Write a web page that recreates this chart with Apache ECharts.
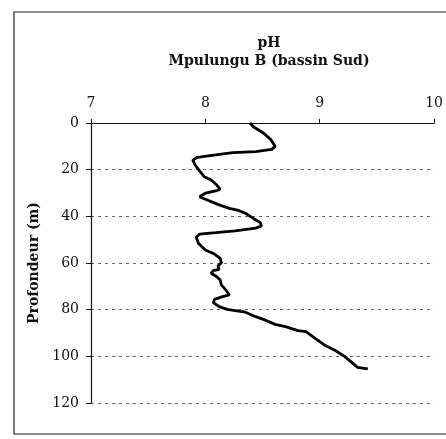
<!DOCTYPE html>
<html>
<head>
<meta charset="utf-8">
<script src="https://cdn.jsdelivr.net/npm/echarts@6/dist/echarts.min.js"></script>
<style>
  html, body { margin: 0; padding: 0; background: #fff; }
  #chart { width: 446px; height: 439px; }
</style>
</head>
<body>
<div id="chart"></div>
<script>
// profil pH - Mpulungu B (bassin Sud)
var depths = [0, 1.6, 4.4, 7, 10, 11.3, 12.3, 12.7, 13.7, 14.7, 15.9, 18, 20, 23, 24.4, 26.6, 28.4, 29,
    30.1, 31.6, 32.7, 35.1, 36.6, 37.3, 38.7, 40.9, 42.7, 44.1, 45.1, 46.2, 47, 47.6, 49, 51.6, 54.4,
    55.9, 58, 59.9, 61.3, 62.7, 63.3, 64.4, 65.9, 67.3, 69.4, 71.6, 73.7, 74.4, 75.6, 77, 78.7, 79.9,
    80.4, 81.1, 83, 84.4, 86.3, 87.3, 89, 89.4, 92.3, 95.1, 97.6, 100.1, 103, 104.7, 105.4];
var phValues = [8.39, 8.42, 8.51, 8.57, 8.61, 8.58, 8.44, 8.24, 8.09, 7.93, 7.89, 7.91, 7.94, 7.99, 8.05,
    8.10, 8.13, 8.10, 8.00, 7.95, 8.00, 8.12, 8.21, 8.28, 8.35, 8.42, 8.48, 8.49, 8.44, 8.26, 8.09,
    7.95, 7.92, 7.94, 8.00, 8.07, 8.13, 8.14, 8.11, 8.12, 8.07, 8.05, 8.10, 8.13, 8.14, 8.18, 8.21,
    8.15, 8.08, 8.07, 8.12, 8.19, 8.26, 8.35, 8.44, 8.52, 8.61, 8.70, 8.81, 8.88, 8.96, 9.04, 9.14,
    9.22, 9.29, 9.33, 9.42];
var titleLines = ['pH', 'Mpulungu B (bassin Sud)'];
var yName = 'Profondeur (m)';

var serif = '"DejaVu Serif", serif';

var seriesData = [];
for (var i = 0; i < depths.length; i++) {
    seriesData.push([phValues[i], depths[i]]);
}

var chart = echarts.init(document.getElementById('chart'));
chart.setOption({
    animation: false,
    title: {
        text: titleLines.join('\n'),
        left: 264, top: 29, textAlign: 'center',
        textStyle: {fontFamily: serif, fontWeight: 'bold', fontSize: 14, lineHeight: 18, color: '#111'}
    },
    graphic: [{
        type: 'polyline',
        shape: {points: [[446, 12], [14, 12], [14, 434], [446, 434]]},
        style: {stroke: '#222', lineWidth: 1.2, fill: null}
    }],
    grid: {left: 91, top: 123, right: 9, bottom: 36},
    xAxis: {
        type: 'value', position: 'top', min: 7, max: 10, interval: 1,
        axisLine: {show: true, onZero: false, lineStyle: {color: '#111', width: 1.2}},
        axisTick: {show: true, length: 4, lineStyle: {color: '#111'}},
        axisLabel: {margin: 13, fontFamily: serif, fontSize: 14, color: '#111'},
        splitLine: {show: false}
    },
    yAxis: {
        type: 'value', inverse: true, min: 0, max: 120, interval: 20,
        name: yName, nameLocation: 'middle', nameGap: 50, nameRotate: 90,
        nameTextStyle: {fontFamily: serif, fontWeight: 'bold', fontSize: 14, color: '#111'},
        axisLine: {show: true, onZero: false, lineStyle: {color: '#111', width: 1.2}},
        axisTick: {show: true, length: 5, lineStyle: {color: '#111'}},
        axisLabel: {margin: 12, fontFamily: serif, fontSize: 14, color: '#111'},
        splitLine: {show: true, lineStyle: {color: '#666', type: [3, 4], width: 1}}
    },
    series: [{
        type: 'line', data: seriesData, showSymbol: false, smooth: false,
        lineStyle: {color: '#000', width: 2.8}
    }]
});
</script>
</body>
</html>
